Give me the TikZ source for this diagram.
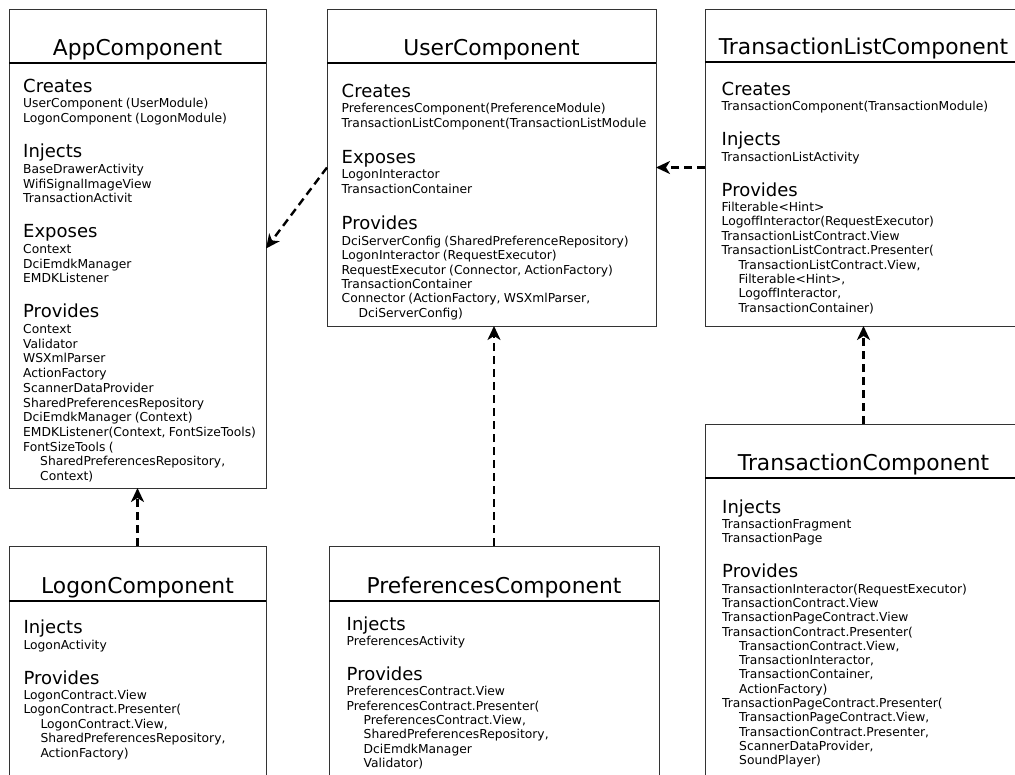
\documentclass[tikz,border=0pt]{standalone}
\usepackage{fontspec}
\setmainfont{DejaVu Sans}
\usetikzlibrary{arrows.meta}

% spacing of a component body: entry line pitch and gap before a heading
\newcommand\lpitch{14.4}
\newcommand\hgap{35}
% first section heading of a component body (no paragraph break before it)
\newcommand\hdf[1]{\fontsize{18}{\hgap}\selectfont\rule{0pt}{14pt}#1\par\vskip1pt\fontsize{12.3}{\lpitch}\selectfont}
% further section headings, followed by the entry lines
\newcommand\hd[1]{\par\fontsize{18}{\hgap}\selectfont\rule{0pt}{14pt}#1\par\vskip1pt\fontsize{12.3}{\lpitch}\selectfont}
\newcommand\ind{\hspace*{17pt}}

\begin{document}
\begin{tikzpicture}[x=1pt,y=-1pt,
  comp/.style={draw=black!80, line width=1pt, inner sep=0pt, outer sep=0pt, anchor=north west, fill=white},
  title/.style={font=\fontsize{21.8}{26}\selectfont, anchor=base, inner sep=0pt},
  body/.style={anchor=north west, inner sep=0pt, text width=400pt, align=left,
    execute at begin node={\hyphenpenalty=10000\exhyphenpenalty=10000}},
  hdr/.style={line width=1.6pt, black},
  dep/.style={line width=2.4pt, dash pattern=on 8pt off 5pt,
    -{Stealth[length=14pt,width=13pt,inset=4pt]}}
]
\useasboundingbox (0,0) rectangle (1015,774);
\fill[white] (0,0) rectangle (1015,774);
\clip (0,0) rectangle (1015,774);

% ---------- AppComponent ----------
\node[comp, minimum width=257pt, minimum height=479pt] (app) at (9,9) {};
\draw[hdr] (app.west |- 0,63) -- (app.east |- 0,63);
\node[title] (appT) at (app.center |- 0,55) {AppComponent};
\node[body] (appB) at (23,78) {\renewcommand\lpitch{14.7}%
\hdf{Creates}UserComponent (UserModule)\\LogonComponent (LogonModule)%
\hd{Injects}BaseDrawerActivity\\WifiSignalImageView\\TransactionActivit%
\hd{Exposes}Context\\DciEmdkManager\\EMDKListener%
\hd{Provides}Context\\Validator\\WSXmlParser\\ActionFactory\\ScannerDataProvider\\SharedPreferencesRepository\\DciEmdkManager (Context)\\EMDKListener(Context, FontSizeTools)\\FontSizeTools (\\\ind SharedPreferencesRepository,\\\ind Context)\par};

% ---------- UserComponent ----------
\node[comp, minimum width=329pt, minimum height=317pt] (user) at (327,9) {};
\draw[hdr] (user.west |- 0,63) -- (user.east |- 0,63);
\node[title] (userT) at (user.center |- 0,55) {UserComponent};
\node[body] (userB) at (341.5,83) {\renewcommand\hgap{36.5}%
\hdf{Creates}PreferencesComponent(PreferenceModule)\\TransactionListComponent(TransactionListModule%
\hd{Exposes}LogonInteractor\\TransactionContainer%
\hd{Provides}DciServerConfig (SharedPreferenceRepository)\\LogonInteractor (RequestExecutor)\\RequestExecutor (Connector, ActionFactory)\\TransactionContainer\\Connector (ActionFactory, WSXmlParser,\\\ind DciServerConfig)\par};

% ---------- TransactionListComponent ----------
\node[comp, minimum width=317pt, minimum height=317pt] (tl) at (705,9) {};
\draw[hdr] (tl.west |- 0,62) -- (tl.east |- 0,62);
\node[title] (tlT) at (tl.center |- 0,54) {TransactionListComponent};
\node[body] (tlB) at (721.5,81) {%
\hdf{Creates}TransactionComponent(TransactionModule)%
\hd{Injects}TransactionListActivity%
\hd{Provides}Filterable<Hint>\\LogoffInteractor(RequestExecutor)\\TransactionListContract.View\\TransactionListContract.Presenter(\\\ind TransactionListContract.View,\\\ind Filterable<Hint>,\\\ind LogoffInteractor,\\\ind TransactionContainer)\par};

% ---------- TransactionComponent ----------
\node[comp, minimum width=317pt, minimum height=366pt] (tc) at (705,424) {};
\draw[hdr] (tc.west |- 0,478) -- (tc.east |- 0,478);
\node[title] (tcT) at (tc.center |- 0,470) {TransactionComponent};
\node[body] (tcB) at (722,499) {\renewcommand\lpitch{14.3}%
\hdf{Injects}TransactionFragment\\TransactionPage%
\hd{Provides}TransactionInteractor(RequestExecutor)\\TransactionContract.View\\TransactionPageContract.View\\TransactionContract.Presenter(\\\ind TransactionContract.View,\\\ind TransactionInteractor,\\\ind TransactionContainer,\\\ind ActionFactory)\\TransactionPageContract.Presenter(\\\ind TransactionPageContract.View,\\\ind TransactionContract.Presenter,\\\ind ScannerDataProvider,\\\ind SoundPlayer)\par};

% ---------- LogonComponent ----------
\node[comp, minimum width=257pt, minimum height=244pt] (logon) at (9,546) {};
\draw[hdr] (logon.west |- 0,601) -- (logon.east |- 0,601);
\node[title] (logonT) at (logon.center |- 0,593) {LogonComponent};
\node[body] (logonB) at (23.3,619.5) {%
\hdf{Injects}LogonActivity%
\hd{Provides}LogonContract.View\\LogonContract.Presenter(\\\ind LogonContract.View,\\\ind SharedPreferencesRepository,\\\ind ActionFactory)\par};

% ---------- PreferencesComponent ----------
\node[comp, minimum width=330pt, minimum height=244pt] (pref) at (329,546) {};
\draw[hdr] (pref.west |- 0,601) -- (pref.east |- 0,601);
\node[title] (prefT) at (pref.center |- 0,593) {PreferencesComponent};
\node[body] (prefB) at (346.5,616) {\renewcommand\lpitch{14.3}%
\hdf{Injects}PreferencesActivity%
\hd{Provides}PreferencesContract.View\\PreferencesContract.Presenter(\\\ind PreferencesContract.View,\\\ind SharedPreferencesRepository,\\\ind DciEmdkManager\\\ind Validator)\par};

% ---------- dependencies ----------
\draw[dep] (user.west) -- (app.east);
\draw[dep] (tl.west) -- (user.east);
\draw[dep] (logon.north) -- (app.south);
\draw[dep] (pref.north) -- (pref.north |- user.south);
\draw[dep] (tc.north) -- (tl.south);
\end{tikzpicture}
\end{document}
